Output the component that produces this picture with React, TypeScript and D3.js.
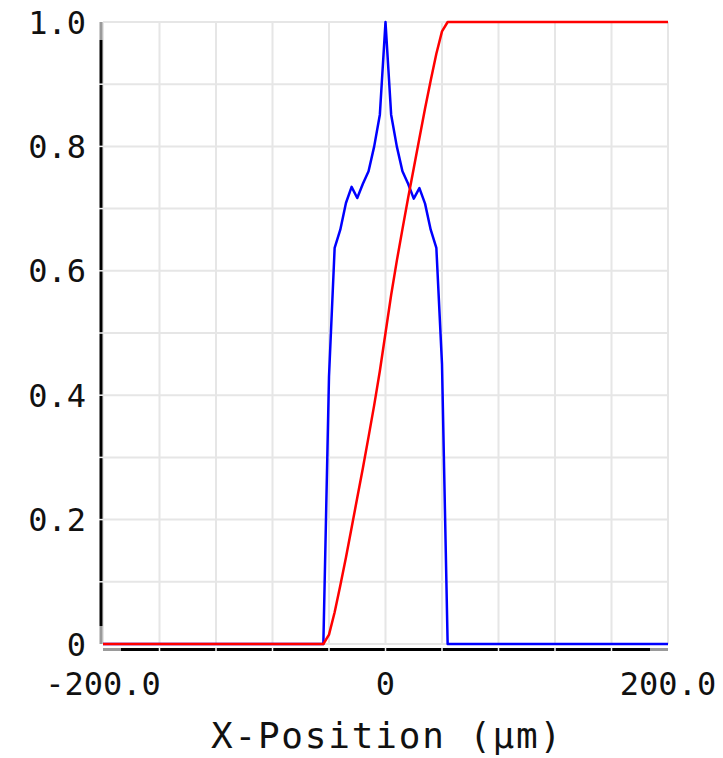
import React from "react";
import * as d3 from "d3";

// Beam profile across the x-position (µm): local intensity and its running (cumulative) fraction
const positions = [-200, -48, -44, -40, -36, -32, -28, -24, -20, -16, -12, -8, -4, 0, 4, 8, 12, 16, 20, 24, 28, 32, 36, 40, 44, 48, 200];
const intensity = [0, 0, 0, 0.43, 0.637, 0.666, 0.709, 0.735, 0.717, 0.74, 0.76, 0.8, 0.851, 1.0, 0.851, 0.8, 0.76, 0.74, 0.716, 0.733, 0.708, 0.666, 0.637, 0.45, 0, 0, 0];
const cumulative = [0, 0, 0, 0.015, 0.051, 0.094, 0.139, 0.187, 0.235, 0.283, 0.333, 0.384, 0.439, 0.5, 0.561, 0.616, 0.667, 0.717, 0.765, 0.813, 0.861, 0.906, 0.949, 0.985, 1, 1, 1];

const xTickValues = [-200, 0, 200];
const xTickLabels = ["-200.0", "0", "200.0"];
const yTickValues = [0, 0.2, 0.4, 0.6, 0.8, 1.0];
const yTickLabels = ["0", "0.2", "0.4", "0.6", "0.8", "1.0"];
const xGridStep = 40;
const yGridStep = 0.1;
const xTitle = "X-Position (µm)";

const W = 723;
const H = 758;
const left = 103;
const right = 668;
const top = 22;
const bottom = 644;

export default function App() {
  const x = d3.scaleLinear().domain([-200, 200]).range([left, right]);
  const y = d3.scaleLinear().domain([0, 1]).range([bottom, top]);

  const xGrid = d3.range(-200, 200 + 1e-9, xGridStep);
  const yGrid = d3.range(0, 1 + 1e-9, yGridStep);

  const pts = positions.map((p, i) => i);
  const line = (vals: number[]) =>
    d3
      .line<number>()
      .x((i) => x(positions[i]))
      .y((i) => y(vals[i]))(pts) || "";

  const font = "'DejaVu Sans Mono', monospace";
  const gridColor = "#e6e6e6";
  const axisY = bottom + 5.5;
  const axisX = left - 2;
  const capLen = 18;

  return (
    <svg
      width={W}
      height={H}
      style={{ position: "absolute", left: 0, top: 0, background: "#fff" }}
    >
      <rect x={0} y={0} width={W} height={H} fill="#fff" />
      {/* grid */}
      {xGrid.map((g) => (
        <line key={"gx" + g} x1={x(g)} x2={x(g)} y1={top} y2={bottom} stroke={gridColor} strokeWidth={2} />
      ))}
      {yGrid.map((g) => (
        <line key={"gy" + g} x1={left} x2={right} y1={y(g)} y2={y(g)} stroke={gridColor} strokeWidth={2} />
      ))}

      {/* axis bars */}
      <line x1={axisX} x2={axisX} y1={top + capLen} y2={bottom - capLen} stroke="#000" strokeWidth={3} />
      <line x1={axisX} x2={axisX} y1={top} y2={top + capLen} stroke="#9a9a9a" strokeWidth={3} />
      <line x1={axisX} x2={axisX} y1={bottom - capLen} y2={bottom} stroke="#9a9a9a" strokeWidth={3} />
      <line x1={left + capLen} x2={right - capLen} y1={axisY} y2={axisY} stroke="#000" strokeWidth={3} />
      <line x1={left} x2={left + capLen} y1={axisY} y2={axisY} stroke="#9a9a9a" strokeWidth={3} />
      <line x1={right - capLen} x2={right} y1={axisY} y2={axisY} stroke="#9a9a9a" strokeWidth={3} />
      {/* grid breaks across the axis bars */}
      {xGrid.slice(1, -1).map((g) => (
        <line key={"bx" + g} x1={x(g)} x2={x(g)} y1={axisY - 2} y2={axisY + 2} stroke="#f0f0f0" strokeWidth={1.5} />
      ))}
      {yGrid.slice(1, -1).map((g) => (
        <line key={"by" + g} x1={axisX - 2} x2={axisX + 2} y1={y(g)} y2={y(g)} stroke="#f0f0f0" strokeWidth={1.5} />
      ))}

      {/* series */}
      <path d={line(intensity)} fill="none" stroke="#0000ff" strokeWidth={2.5} strokeLinejoin="round" />
      <path d={line(cumulative)} fill="none" stroke="#ff0000" strokeWidth={2.5} strokeLinejoin="round" />

      {/* tick labels */}
      {yTickValues.map((v, i) => (
        <text
          key={"yl" + v}
          x={86}
          y={y(v)}
          dy="0.36em"
          textAnchor="end"
          fontFamily={font}
          fontSize={32}
          fill="#111"
        >
          {yTickLabels[i]}
        </text>
      ))}
      {xTickValues.map((v, i) => (
        <text
          key={"xl" + v}
          x={x(v)}
          y={695}
          textAnchor="middle"
          fontFamily={font}
          fontSize={32}
          fill="#111"
        >
          {xTickLabels[i]}
        </text>
      ))}
      <text
        x={387}
        y={748}
        textAnchor="middle"
        fontFamily={font}
        fontSize={36}
        letterSpacing={1.8}
        fill="#111"
      >
        {xTitle}
      </text>
    </svg>
  );
}
